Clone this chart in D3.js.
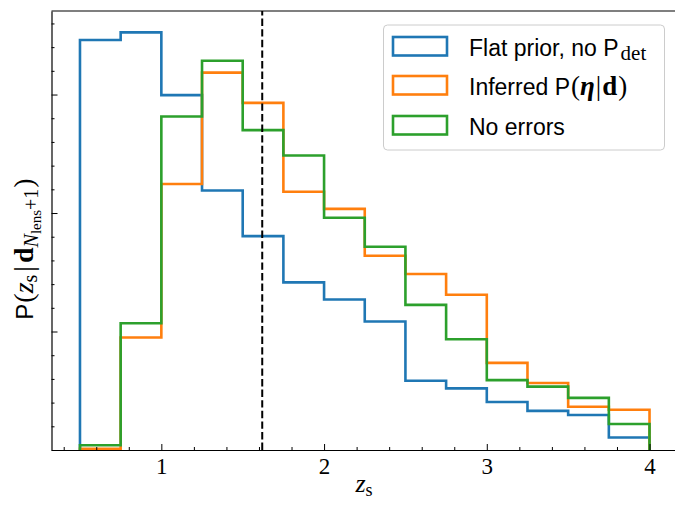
<!DOCTYPE html>
<html>
<head>
<meta charset="utf-8">
<script src="https://cdn.jsdelivr.net/npm/d3@7"></script>
<style>
  html, body { margin: 0; padding: 0; background: #fff; }
  svg { display: block; }
</style>
</head>
<body>
<svg id="chart" width="675" height="506"></svg>
<script>
// ---- data ----
const binEdges = [0.5, 0.75, 1.0, 1.25, 1.5, 1.75, 2.0, 2.25, 2.5, 2.75, 3.0, 3.25, 3.5, 3.75, 4.0];
const flatPrior = [0.692, 0.705, 0.599, 0.438, 0.361, 0.283, 0.254, 0.217, 0.117, 0.104, 0.081, 0.066, 0.059, 0.021];
const inferred  = [0.002, 0.190, 0.449, 0.637, 0.586, 0.436, 0.407, 0.328, 0.297, 0.262, 0.147, 0.113, 0.073, 0.068];
const noErrors  = [0.008, 0.214, 0.563, 0.657, 0.540, 0.497, 0.392, 0.343, 0.245, 0.187, 0.118, 0.107, 0.088, 0.044];
const dashedZ = 1.62;
const xTicks = [1, 2, 3, 4];
const xTickLabels = ["1", "2", "3", "4"];
const xMinorTicks = [0.4, 0.6, 0.8, 1.2, 1.4, 1.6, 1.8, 2.2, 2.4, 2.6, 2.8, 3.2, 3.4, 3.6, 3.8, 4.2];
const yTicks = [0, 0.2, 0.4, 0.6];
const yMinorTicks = [0.04, 0.08, 0.12, 0.16, 0.24, 0.28, 0.32, 0.36, 0.44, 0.48, 0.52, 0.56, 0.64, 0.68, 0.72];
const seriesNames = ["Flat prior", "Inferred", "No errors"];
const colors = ["#1f77b4", "#ff7f0e", "#2ca02c"];

// ---- layout ----
const L = 51.5, R = 678, T = 11, B = 450;
const svg = d3.select("#chart");
const x = d3.scaleLinear().domain([0.325, 4.175]).range([L, R]);
const y = d3.scaleLinear().domain([0, 0.741]).range([B, T]);

// histogram steps
const series = [flatPrior, inferred, noErrors];
const line = d3.line().x(d => x(d[0])).y(d => y(d[1]));
series.forEach((vals, si) => {
  const pts = [[binEdges[0], 0]];
  vals.forEach((v, i) => { pts.push([binEdges[i], v]); pts.push([binEdges[i + 1], v]); });
  pts.push([binEdges[binEdges.length - 1], 0]);
  svg.append("path").attr("d", line(pts))
    .attr("fill", "none").attr("stroke", colors[si])
    .attr("stroke-width", 2.6).attr("stroke-linejoin", "miter").attr("stroke-linecap", "butt");
});

// dashed line
svg.append("line")
  .attr("x1", x(dashedZ)).attr("x2", x(dashedZ))
  .attr("y1", y(0)).attr("y2", y(0.741))
  .attr("stroke", "#000").attr("stroke-width", 2).attr("stroke-dasharray", "7.4,3.2");

// axes
const serif = "'Liberation Serif', 'DejaVu Serif', serif";
const sans = "'Liberation Sans', Arial, sans-serif";
const xAxis = d3.axisBottom(x).tickValues(xTicks).tickFormat((d, i) => xTickLabels[i])
  .tickSizeInner(-6).tickSizeOuter(0).tickPadding(8);
const gx = svg.append("g").attr("transform", `translate(0,${B})`).call(xAxis);
gx.selectAll("text").attr("font-family", serif).attr("font-size", 23).attr("fill", "#000");
const xMinor = d3.axisBottom(x).tickValues(xMinorTicks).tickFormat("").tickSizeInner(-3).tickSizeOuter(0);
svg.append("g").attr("transform", `translate(0,${B})`).call(xMinor).select(".domain").remove();

const yAxis = d3.axisLeft(y).tickValues(yTicks).tickFormat("").tickSizeInner(-6).tickSizeOuter(0);
svg.append("g").attr("transform", `translate(${L},0)`).call(yAxis);
const yMinor = d3.axisLeft(y).tickValues(yMinorTicks).tickFormat("").tickSizeInner(-3).tickSizeOuter(0);
svg.append("g").attr("transform", `translate(${L},0)`).call(yMinor).select(".domain").remove();

svg.selectAll(".tick line").attr("stroke", "#000").attr("stroke-width", 1);
svg.selectAll(".domain").attr("stroke", "#000").attr("stroke-width", 1.2);

// top and right spines
svg.append("line").attr("x1", L).attr("x2", R).attr("y1", T).attr("y2", T)
  .attr("stroke", "#000").attr("stroke-width", 1.2);
svg.append("line").attr("x1", R).attr("x2", R).attr("y1", T).attr("y2", B)
  .attr("stroke", "#000").attr("stroke-width", 1.2);

// axis labels
const xl = svg.append("text").attr("x", 364).attr("y", 492).attr("text-anchor", "middle")
  .attr("font-family", serif).attr("font-size", 26);
xl.append("tspan").attr("font-style", "italic").text("z");
xl.append("tspan").attr("font-size", 18).attr("dy", 4).text("s");

const yl = svg.append("text").attr("transform", "translate(33,249) rotate(-90)")
  .attr("text-anchor", "middle").attr("font-family", serif).attr("font-size", 28);
yl.append("tspan").attr("font-family", sans).attr("font-size", 24).text("P");
yl.append("tspan").attr("dx", 1).text("(");
yl.append("tspan").attr("font-style", "italic").text("z");
yl.append("tspan").attr("font-size", 20).attr("dy", 4).text("s");
yl.append("tspan").attr("dx", 3).attr("dy", -4).text("|");
yl.append("tspan").attr("dx", 3).attr("font-weight", "bold").text("d");
yl.append("tspan").attr("font-size", 20).attr("font-style", "italic").attr("dy", 5).text("N");
yl.append("tspan").attr("font-size", 15).attr("dy", 3).text("lens");
yl.append("tspan").attr("font-size", 20).attr("dy", -3).text("+1");
yl.append("tspan").attr("dx", 1).attr("dy", -5).text(")");

// legend
const lg = svg.append("g");
lg.append("rect").attr("x", 383.5).attr("y", 25).attr("width", 281).attr("height", 125)
  .attr("rx", 4).attr("fill", "#fff").attr("fill-opacity", 0.8)
  .attr("stroke", "#cccccc").attr("stroke-width", 1);
const rowBase = [56, 95, 135];
rowBase.forEach((b, i) => {
  lg.append("rect").attr("x", 393).attr("y", b - 19).attr("width", 54).attr("height", 18.5)
    .attr("fill", "none").attr("stroke", colors[i]).attr("stroke-width", 2.6);
});
const t1 = lg.append("text").attr("x", 469).attr("y", rowBase[0]).attr("font-family", sans).attr("font-size", 23);
t1.append("tspan").text("Flat prior, no P");
t1.append("tspan").attr("font-family", serif).attr("font-size", 21).attr("dx", 2).attr("dy", 4).text("det");
const t2 = lg.append("text").attr("x", 469).attr("y", rowBase[1]).attr("font-family", sans).attr("font-size", 23);
t2.append("tspan").text("Inferred P");
t2.append("tspan").attr("font-family", serif).attr("font-size", 27).attr("dx", 1).text("(");
t2.append("tspan").attr("font-family", serif).attr("font-size", 27).attr("font-weight", "bold").attr("font-style", "italic").text("η");
t2.append("tspan").attr("font-family", serif).attr("font-size", 27).attr("dx", 1).text("|");
t2.append("tspan").attr("font-family", serif).attr("font-size", 27).attr("dx", 1).attr("font-weight", "bold").text("d");
t2.append("tspan").attr("font-family", serif).attr("font-size", 27).attr("dx", 1).text(")");
lg.append("text").attr("x", 469).attr("y", rowBase[2]).attr("font-family", sans).attr("font-size", 23).text("No errors");
</script>
</body>
</html>
